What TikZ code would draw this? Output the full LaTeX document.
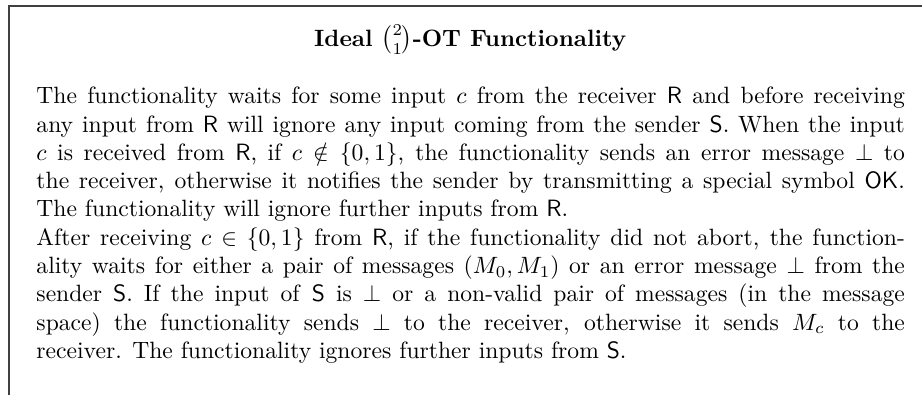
\documentclass[tikz,border=0pt]{standalone}
\usepackage{amsmath,amssymb}
\usepackage{tikz}
\usetikzlibrary{positioning}

\begin{document}
\begin{tikzpicture}[
    every node/.style={inner sep=0pt},
    heading/.style={font=\bfseries, anchor=base},
    bodytext/.style={text width=368pt, align=justify, anchor=north west},
    frameline/.style={draw=black!75, line width=0.8pt}
]
\useasboundingbox (0,0) rectangle (390.7pt,-167.4pt);

% Frame, open at right and bottom
\coordinate (framebl) at (3.8pt,-167.4pt);
\coordinate (frametr) at (390.7pt,-2.5pt);
\draw[frameline] (framebl) |- (frametr);

% Title
\node[heading] (title) at (199.25pt,-19.5pt) {Ideal $\binom{2}{1}$-OT Functionality};

% Description
\node[bodytext] (desc) at (15.25pt,-36.7pt) {The functionality waits for some input $c$ from the receiver \textsf{R} and before receiving\linebreak
any input from \textsf{R} will ignore any input coming from the sender \textsf{S}. When the input\linebreak
$c$ is received from \textsf{R}, if $c \notin \{0,1\}$, the functionality sends an error message $\perp$ to\linebreak
the receiver, otherwise it notifies the sender by transmitting a special symbol \textsf{OK}.\linebreak
The functionality will ignore further inputs from \textsf{R}.\\
After receiving $c \in \{0,1\}$ from \textsf{R}, if the functionality did not abort, the function-\linebreak
ality waits for either a pair of messages $(M_0, M_1)$ or an error message $\perp$ from the\linebreak
sender \textsf{S}. If the input of \textsf{S} is $\perp$ or a non-valid pair of messages (in the message\linebreak
space) the functionality sends $\perp$ to the receiver, otherwise it sends $M_c$ to the\linebreak
receiver. The functionality ignores further inputs from \textsf{S}.};

\end{tikzpicture}
\end{document}
